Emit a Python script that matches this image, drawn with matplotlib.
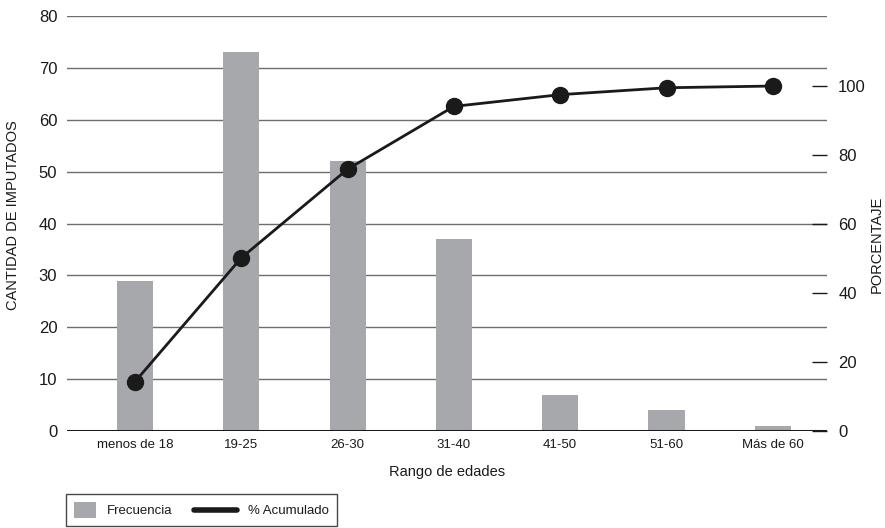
import matplotlib.pyplot as plt
from matplotlib.patches import Patch, Rectangle
from matplotlib.lines import Line2D
from matplotlib.legend_handler import HandlerBase

plt.rcParams['font.family'] = ['Liberation Sans Narrow', 'Liberation Sans', 'DejaVu Sans']

categorias = ['menos de 18', '19-25', '26-30', '31-40', '41-50', '51-60', 'Más de 60']
frecuencia = [29, 73, 52, 37, 7, 4, 1]
acumulado = [14.3, 50.2, 75.9, 94.1, 97.5, 99.5, 100]

TXT = '#1a1a1a'


class SquareHandler(HandlerBase):
    def create_artists(self, legend, orig_handle, xdescent, ydescent,
                       width, height, fontsize, trans):
        r = Rectangle((-xdescent, -ydescent), width, height,
                      facecolor=orig_handle.get_facecolor(), edgecolor='none',
                      transform=trans)
        return [r]


class LongLineHandler(HandlerBase):
    # linea mas larga que el hueco del handle, se extiende a la izquierda
    def create_artists(self, legend, orig_handle, xdescent, ydescent,
                       width, height, fontsize, trans):
        y = height / 2 - ydescent
        ln = Line2D([-xdescent - width * 0.95, width - xdescent], [y, y],
                    color=orig_handle.get_color(),
                    linewidth=orig_handle.get_linewidth(),
                    solid_capstyle='round', transform=trans)
        return [ln]


fig = plt.figure(figsize=(8.85, 5.28), dpi=100)
ax = fig.add_axes([0.0757, 0.1837, 0.8588, 0.786])

x = range(len(categorias))
ax.bar(x, frecuencia, width=0.34, color='#a7a8ab', zorder=2)
ax.set_ylim(0, 80)
ax.set_xlim(-0.64, 6.51)
ax.set_yticks(range(0, 81, 10))
ax.grid(axis='y', color='#6e6e6e', linewidth=1, zorder=0)
ax.axhline(0, color=TXT, linewidth=2.2, zorder=3)
for s in ax.spines.values():
    s.set_visible(False)
ax.tick_params(axis='y', length=0, pad=7, labelsize=12, labelcolor=TXT)
ax.tick_params(axis='x', length=0, pad=6, labelsize=9.5, labelcolor=TXT)
ax.set_xticks(list(x))
ax.set_xticklabels(categorias)
ax.set_xlabel('Rango de edades', fontsize=10.5, labelpad=10, color=TXT)
ax.set_ylabel('CANTIDAD DE IMPUTADOS', fontsize=10.5, color=TXT)
ax.yaxis.set_label_coords(-0.062, 0.52)

ax2 = ax.twinx()
ax2.plot(x, acumulado, color=TXT, linewidth=2, marker='o',
         markersize=11.5, zorder=4)
ax2.set_ylim(0, 120.3)
ax2.set_yticks(range(0, 101, 20))
for s in ax2.spines.values():
    s.set_visible(False)
ax2.tick_params(axis='y', direction='in', length=11, width=1, pad=8,
                labelsize=12, color=TXT, labelcolor=TXT)
ax2.set_ylabel('PORCENTAJE', fontsize=10.5, color=TXT)
ax2.yaxis.set_label_coords(1.056, 0.45)

handles = [Patch(facecolor='#a7a8ab', edgecolor='none'),
           Line2D([0], [0], color=TXT, linewidth=4)]
leg = fig.legend(handles, ['Frecuencia', '% Acumulado'], ncol=2,
                 loc='upper left', bbox_to_anchor=(66 / 885, 1 - 494 / 528),
                 borderaxespad=0, frameon=True, fancybox=False,
                 edgecolor=TXT, fontsize=9.5, handlelength=1.67,
                 handleheight=1.5, columnspacing=3.25, borderpad=0.6,
                 handletextpad=0.83, labelcolor=TXT,
                 handler_map={Patch: SquareHandler(), Line2D: LongLineHandler()})
leg.get_frame().set_linewidth(1)

fig.savefig('out.png', dpi=100)
